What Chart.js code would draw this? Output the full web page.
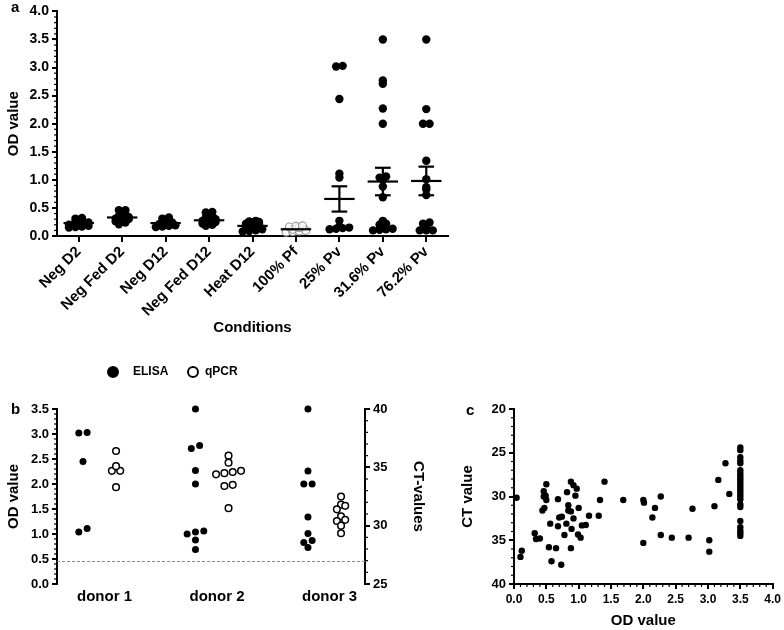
<!DOCTYPE html>
<html>
<head>
<meta charset="utf-8">
<script src="https://cdn.jsdelivr.net/npm/chart.js@4.4.1/dist/chart.umd.min.js"></script>
<style>
  body { margin: 0; background: #fff; width: 784px; height: 630px; position: relative; overflow: hidden; }
  canvas { position: absolute; }
  #chartA { left: 0; top: 0; }
  #chartB { left: 0; top: 340px; }
  #chartC { left: 440px; top: 340px; }
</style>
</head>
<body>
<canvas id="chartA" width="460" height="340"></canvas>
<canvas id="chartB" width="440" height="290"></canvas>
<canvas id="chartC" width="344" height="290"></canvas>
<script>
// ---------- panel a : OD value per condition ----------
const conditions = ["Neg D2", "Neg Fed D2", "Neg D12", "Neg Fed D12", "Heat D12", "100% Pf", "25% Pv", "31.6% Pv", "76.2% Pv"];
const negD2 = [0.15, 0.16, 0.17, 0.18, 0.20, 0.21, 0.22, 0.24, 0.26, 0.28, 0.31, 0.32];
const negFedD2 = [0.21, 0.24, 0.26, 0.28, 0.30, 0.31, 0.32, 0.34, 0.36, 0.38, 0.41, 0.46, 0.46];
const negD12 = [0.16, 0.17, 0.18, 0.19, 0.21, 0.22, 0.24, 0.26, 0.29, 0.31, 0.33];
const negFedD12 = [0.18, 0.20, 0.22, 0.24, 0.25, 0.27, 0.29, 0.30, 0.33, 0.36, 0.42, 0.43];
const heatD12 = [0.08, 0.09, 0.10, 0.12, 0.13, 0.15, 0.16, 0.18, 0.20, 0.21, 0.22, 0.24, 0.25, 0.26, 0.27];
const pf100 = [0.07, 0.08, 0.09, 0.10, 0.12, 0.15, 0.16, 0.17, 0.18];
const pv25 = [3.03, 3.02, 2.44, 1.11, 1.04, 0.27, 0.17, 0.15, 0.14, 0.13, 0.12];
const pv316 = [3.50, 2.77, 2.71, 2.27, 2.00, 1.06, 1.04, 1.00, 0.88, 0.69, 0.27, 0.22, 0.20, 0.13, 0.12, 0.11, 0.10];
const pv762 = [3.50, 2.26, 2.00, 2.00, 1.34, 1.01, 0.87, 0.83, 0.73, 0.24, 0.22, 0.17, 0.10, 0.10, 0.10];
const meanA = [0.23, 0.33, 0.23, 0.28, 0.18, 0.12, 0.66, 0.97, 0.98];
const semA = [0.01, 0.02, 0.01, 0.02, 0.01, 0.01, 0.225, 0.245, 0.255];
const groupsA = [negD2, negFedD2, negD12, negFedD12, heatD12, pf100, pv25, pv316, pv762];

// ---------- panel b : per donor ELISA (OD) and qPCR (CT) ----------
const donors = ["donor 1", "donor 2", "donor 3"];
const elisaD1 = [3.02, 3.03, 2.45, 1.04, 1.11];
const elisaD2 = [3.50, 2.77, 2.71, 2.27, 2.00, 1.00, 1.06, 1.04, 0.88, 0.69];
const elisaD3 = [3.50, 2.26, 2.00, 2.00, 1.34, 1.01, 0.87, 0.83, 0.73];
const qpcrD1 = [36.4, 34.7, 34.7, 35.1, 33.3];
const qpcrD2 = [36.0, 35.4, 34.6, 34.7, 34.4, 34.5, 33.5, 33.4, 31.5];
const qpcrD3 = [32.5, 31.8, 31.7, 31.4, 30.8, 30.5, 30.4, 30.0, 29.35];
const cutoff = 0.45;

// ---------- panel c : OD value vs CT value ----------
const odC = [0.04, 0.10, 0.12, 0.32, 0.34, 0.40, 0.44, 0.47, 0.46, 0.46, 0.49, 0.50, 0.50, 0.54, 0.56, 0.58, 0.65, 0.68, 0.68, 0.70,
  0.74, 0.73, 0.78, 0.81, 0.82, 0.84, 0.84, 0.88, 0.88, 0.89, 0.88, 0.92, 0.92, 0.95, 0.97, 1.00, 0.99, 1.03, 1.05, 1.11,
  1.16, 1.31, 1.33, 1.40, 1.69, 2.00, 2.01, 2.00, 2.18, 2.14, 2.27, 2.27, 2.44, 2.70, 2.76, 3.02, 3.02, 3.10, 3.16, 3.27, 3.33,
  3.5, 3.5, 3.5, 3.5, 3.5, 3.5, 3.5, 3.5, 3.5, 3.5, 3.5, 3.5, 3.5, 3.5, 3.5, 3.5, 3.5, 3.5, 3.5, 3.5, 3.5, 3.5, 3.5, 3.5];
const ctC = [30.15, 36.9, 36.2, 34.2, 34.85, 34.8, 31.6, 31.3, 29.4, 30.0, 29.9, 30.4, 28.6, 35.8, 33.1, 37.4, 35.9, 30.3, 33.4, 32.4,
  32.3, 37.8, 34.4, 33.1, 29.5, 31.0, 31.6, 31.7, 35.9, 33.7, 28.3, 28.7, 32.5, 29.9, 29.1, 31.3, 34.35, 34.7, 33.3, 33.25,
  32.2, 32.2, 30.4, 28.3, 30.4, 30.4, 30.7, 35.3, 31.3, 32.4, 30.0, 34.4, 34.7, 34.7, 31.4, 35.0, 36.3, 31.1, 28.1, 26.2, 29.7,
  24.4, 24.7, 25.5, 25.9, 26.2, 27.0, 27.3, 27.6, 27.9, 28.2, 28.5, 28.8, 29.1, 29.4, 29.7, 30.0, 30.3, 30.9, 31.2, 32.8, 33.5, 33.9, 34.2, 34.5];

Chart.defaults.font.family = "'Liberation Sans', Arial, sans-serif";
Chart.defaults.font.weight = "bold";
Chart.defaults.color = "#000";

// Prism-like column scatter: values close together go in one row, centred
function swarm(values, tol, gap) {
  const order = values.map((v, i) => i).sort((a, b) => values[a] - values[b]);
  const off = new Array(values.length).fill(0);
  let row = [];
  const flush = () => {
    row.forEach((idx, j) => { off[idx] = (j - (row.length - 1) / 2) * gap; });
    row = [];
  };
  order.forEach(i => {
    if (row.length && values[i] - values[row[0]] > tol) flush();
    row.push(i);
  });
  flush();
  return off;
}

function columnPoints(values, center, tol, gap) {
  const off = swarm(values, tol, gap);
  return values.map((v, i) => ({ x: center + off[i], y: v }));
}

const minorTicks = {
  id: "minorTicks",
  afterDraw(chart, args, opts) {
    const ctx = chart.ctx;
    ctx.save();
    ctx.strokeStyle = "#000";
    ctx.lineWidth = 1.2;
    (opts.list || []).forEach(m => {
      const s = chart.scales[m.axis];
      const n = Math.round((s.max - s.min) / m.step);
      for (let k = 0; k <= n; k++) {
        const p = s.getPixelForValue(s.min + k * m.step);
        ctx.beginPath();
        if (s.isHorizontal()) { ctx.moveTo(p, s.top); ctx.lineTo(p, s.top + m.len); }
        else if (s.position === "left") { ctx.moveTo(s.right, p); ctx.lineTo(s.right - m.len, p); }
        else { ctx.moveTo(s.left, p); ctx.lineTo(s.left + m.len, p); }
        ctx.stroke();
      }
    });
    ctx.restore();
  }
};

const panelLabel = {
  id: "panelLabel",
  afterDraw(chart, args, opts) {
    const ctx = chart.ctx;
    ctx.save();
    ctx.font = "bold 15px 'Liberation Sans', Arial, sans-serif";
    ctx.fillStyle = "#000";
    ctx.textBaseline = "middle";
    ctx.fillText(opts.text, opts.x, opts.y);
    ctx.restore();
  }
};

const meanSem = {
  id: "meanSem",
  afterDatasetsDraw(chart) {
    const { ctx, scales: { x, y } } = chart;
    const seg = (x1, y1, x2, y2) => { ctx.beginPath(); ctx.moveTo(x1, y1); ctx.lineTo(x2, y2); ctx.stroke(); };
    ctx.save();
    ctx.strokeStyle = "#000";
    ctx.lineWidth = 2.2;
    meanA.forEach((m, i) => {
      const ym = y.getPixelForValue(m);
      seg(x.getPixelForValue(i - 0.35), ym, x.getPixelForValue(i + 0.35), ym);
      if (semA[i] > 0.05) {
        const yt = y.getPixelForValue(m + semA[i]);
        const yb = y.getPixelForValue(m - semA[i]);
        const xc = x.getPixelForValue(i);
        seg(xc, yt, xc, yb);
        seg(x.getPixelForValue(i - 0.18), yt, x.getPixelForValue(i + 0.18), yt);
        seg(x.getPixelForValue(i - 0.18), yb, x.getPixelForValue(i + 0.18), yb);
      }
    });
    ctx.restore();
  }
};

const cutoffLine = {
  id: "cutoffLine",
  beforeDatasetsDraw(chart) {
    const { ctx, chartArea, scales: { y } } = chart;
    const yp = y.getPixelForValue(cutoff);
    ctx.save();
    ctx.strokeStyle = "#8c8c8c";
    ctx.lineWidth = 1;
    ctx.setLineDash([3, 2]);
    ctx.beginPath();
    ctx.moveTo(chartArea.left, yp);
    ctx.lineTo(chartArea.right, yp);
    ctx.stroke();
    ctx.restore();
  }
};

const legendB = {
  id: "legendB",
  afterDraw(chart) {
    const ctx = chart.ctx;
    ctx.save();
    ctx.font = "bold 12px 'Liberation Sans', Arial, sans-serif";
    ctx.textBaseline = "middle";
    chart.data.datasets.forEach((ds, i) => {
      const x0 = 113 + i * 80;
      ctx.beginPath();
      ctx.arc(x0, 32, 5, 0, Math.PI * 2);
      ctx.fillStyle = ds.pointBackgroundColor;
      ctx.fill();
      ctx.lineWidth = 2;
      ctx.strokeStyle = "#000";
      ctx.stroke();
      ctx.fillStyle = "#000";
      ctx.fillText(ds.label, x0 + 20 - i * 8, 32);
    });
    ctx.restore();
  }
};

const axisLine = { color: "#000", width: 2 };
const tickFont = { size: 13, weight: "bold" };
const titleFont = { size: 15, weight: "bold" };
const base = {
  responsive: false,
  animation: false,
  events: [],
  plugins: { legend: { display: false }, tooltip: { enabled: false } }
};

// ---------- chart a ----------
const blackA = [];
const greyA = [];
groupsA.forEach((vals, i) => {
  const pts = columnPoints(vals, i, 0.04, 0.15);
  (i === 5 ? greyA : blackA).push(...pts);
});

new Chart(document.getElementById("chartA"), {
  type: "scatter",
  data: {
    datasets: [
      { data: blackA, clip: false, pointRadius: 4.2, pointBackgroundColor: "#000", pointBorderColor: "#000", pointBorderWidth: 0 },
      { data: greyA, clip: false, pointRadius: 4, pointBackgroundColor: "rgba(255,255,255,0.7)", pointBorderColor: "#9b9b9b", pointBorderWidth: 1.2 }
    ]
  },
  options: {
    ...base,
    layout: { padding: { top: 7, right: 12 } },
    plugins: {
      ...base.plugins,
      minorTicks: { list: [{ axis: "y", step: 0.1, len: 3 }] },
      panelLabel: { text: "a", x: 11, y: 8 }
    },
    scales: {
      x: {
        type: "linear", min: -0.5, max: 8.5,
        afterBuildTicks: s => { s.ticks = conditions.map((c, i) => ({ value: i })); },
        afterFit: s => { s.height = 104; },
        ticks: { callback: v => conditions[v], minRotation: 45, maxRotation: 45, autoSkip: false, font: titleFont, padding: 1 },
        grid: { drawOnChartArea: false, color: "#000", lineWidth: 2, tickLength: 6 },
        border: axisLine,
        title: { display: true, text: "Conditions", font: titleFont, padding: { bottom: 3 } }
      },
      y: {
        min: 0, max: 4,
        afterFit: s => { s.width = 57; },
        ticks: { stepSize: 0.5, callback: v => v.toFixed(1), font: { size: 14, weight: "bold" }, padding: 3 },
        grid: { drawOnChartArea: false, color: "#000", lineWidth: 2, tickLength: 5 },
        border: axisLine,
        title: { display: true, text: "OD value", font: titleFont, padding: { top: 5 } }
      }
    }
  },
  plugins: [meanSem, minorTicks, panelLabel]
});

// ---------- chart b ----------
const elisaB = [elisaD1, elisaD2, elisaD3].flatMap((v, i) => columnPoints(v, i - 0.147, 0.08, 0.074));
const qpcrB = [qpcrD1, qpcrD2, qpcrD3].flatMap((v, i) => columnPoints(v, i + 0.147, 0.35, 0.074));

new Chart(document.getElementById("chartB"), {
  type: "scatter",
  data: {
    datasets: [
      { label: "ELISA", data: elisaB, yAxisID: "y", clip: false, pointRadius: 3.5, pointBackgroundColor: "#000", pointBorderColor: "#000", pointBorderWidth: 0 },
      { label: "qPCR", data: qpcrB, yAxisID: "y2", clip: false, pointRadius: 3.3, pointBackgroundColor: "#fff", pointBorderColor: "#000", pointBorderWidth: 1.5 }
    ]
  },
  options: {
    ...base,
    layout: { padding: { top: 69 } },
    plugins: {
      ...base.plugins,
      minorTicks: { list: [{ axis: "y", step: 0.1, len: 3 }, { axis: "y2", step: 1, len: 3 }] },
      panelLabel: { text: "b", x: 11, y: 70 }
    },
    scales: {
      x: {
        type: "linear", min: -0.378, max: 2.36,
        afterBuildTicks: s => { s.ticks = donors.map((d, i) => ({ value: i })); },
        afterFit: s => { s.height = 46; },
        ticks: { callback: v => donors[v], font: { size: 15, weight: "bold" }, padding: 4, labelOffset: 5, maxRotation: 0 },
        grid: { display: false, drawTicks: false },
        border: { display: false }
      },
      y: {
        position: "left", min: 0, max: 3.5,
        afterFit: s => { s.width = 57; },
        ticks: { stepSize: 0.5, callback: v => v.toFixed(1), font: tickFont, padding: 3 },
        grid: { drawOnChartArea: false, color: "#000", lineWidth: 2, tickLength: 5 },
        border: axisLine,
        title: { display: true, text: "OD value", font: titleFont, padding: { top: 5 } }
      },
      y2: {
        position: "right", min: 25, max: 40,
        afterFit: s => { s.width = 75; },
        ticks: { stepSize: 5, font: tickFont, padding: 3 },
        grid: { drawOnChartArea: false, color: "#000", lineWidth: 2, tickLength: 5 },
        border: axisLine,
        title: { display: true, text: "CT-values", font: titleFont, padding: { top: 13 } }
      }
    }
  },
  plugins: [cutoffLine, minorTicks, panelLabel, legendB]
});

// ---------- chart c ----------
new Chart(document.getElementById("chartC"), {
  type: "scatter",
  data: {
    datasets: [
      { data: odC.map((v, i) => ({ x: v, y: ctC[i] })), clip: false, pointRadius: 3.2, pointBackgroundColor: "#000", pointBorderColor: "#000", pointBorderWidth: 0 }
    ]
  },
  options: {
    ...base,
    layout: { padding: { top: 69, right: 11 } },
    plugins: {
      ...base.plugins,
      minorTicks: { list: [{ axis: "x", step: 0.1, len: 3 }, { axis: "y", step: 1, len: 3 }] },
      panelLabel: { text: "c", x: 26, y: 71 }
    },
    scales: {
      x: {
        min: 0, max: 4,
        afterFit: s => { s.height = 46; },
        ticks: { stepSize: 0.5, callback: v => v.toFixed(1), font: { size: 12, weight: "bold" }, padding: 3, maxRotation: 0 },
        grid: { drawOnChartArea: false, color: "#000", lineWidth: 2, tickLength: 5 },
        border: axisLine,
        title: { display: true, text: "OD value", font: titleFont, padding: { bottom: 0 } }
      },
      y: {
        reverse: true, min: 20, max: 40,
        afterFit: s => { s.width = 74; },
        ticks: { stepSize: 5, font: tickFont, padding: 3 },
        grid: { drawOnChartArea: false, color: "#000", lineWidth: 2, tickLength: 5 },
        border: axisLine,
        title: { display: true, text: "CT value", font: titleFont, padding: { top: 19 } }
      }
    }
  },
  plugins: [minorTicks, panelLabel]
});
</script>
</body>
</html>
